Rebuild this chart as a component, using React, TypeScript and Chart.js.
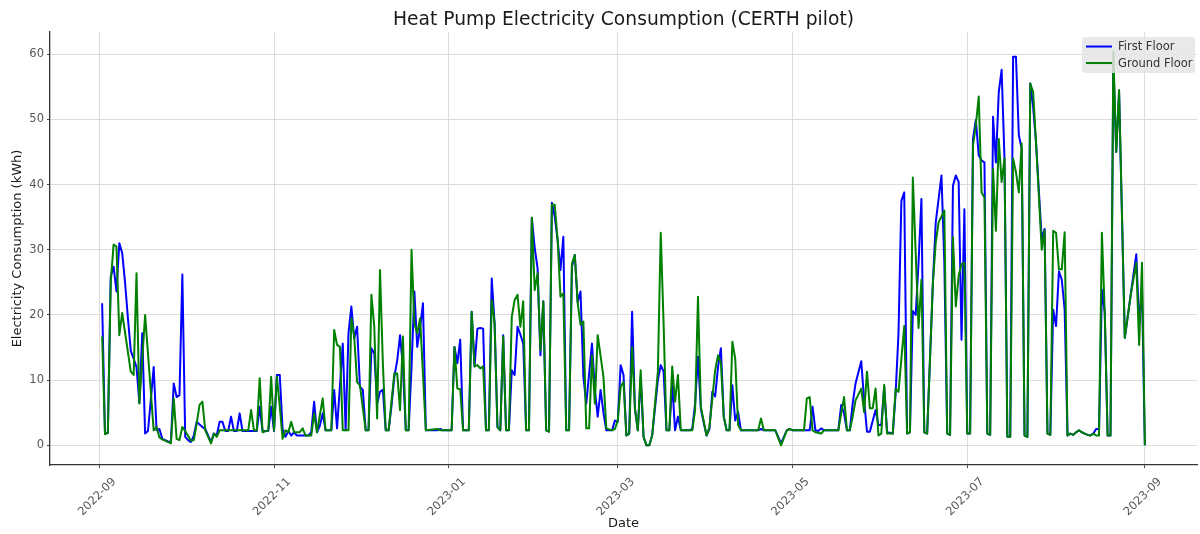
import React, { useEffect, useRef } from "react";
import { Chart, registerables } from "chart.js";

Chart.register(...registerables);

// x values are days since 2022-09-01
const tickDays = [0, 61, 122, 181, 242, 303, 365];
const tickLabels = ["2022-09", "2022-11", "2023-01", "2023-03", "2023-05", "2023-07", "2023-09"];
const yTickValues = [0, 10, 20, 30, 40, 50, 60];

const firstFloorDays = [
  1, 2, 3, 4, 5, 6, 7, 8, 9, 10, 11, 12, 13, 14, 15, 16, 17, 18, 19, 20, 21, 22, 23, 24, 25, 26, 27, 28, 29, 30,
  31, 32, 33, 34, 35, 36, 37, 38, 39, 40, 41, 42, 43, 44, 45, 46, 47, 48, 49, 50, 55, 56, 57, 59, 60, 61, 62, 63, 64, 65,
  66, 67, 68, 69, 73, 74, 75, 76, 77, 78, 79, 81, 82, 83, 84, 85, 86, 87, 88, 89, 90, 91, 92, 93, 94, 95, 96, 97, 98, 99,
  100, 101, 102, 103, 104, 105, 106, 107, 108, 109, 110, 111, 112, 113, 114, 118, 119, 120, 123, 124, 125, 126, 127, 129, 130,
  131, 132, 133, 134, 135, 136, 137, 138, 139, 140, 141, 142, 143, 144, 145, 146, 147, 148, 149, 150, 151, 152, 153, 154, 155,
  156, 157, 158, 159, 160, 161, 162, 163, 164, 165, 166, 167, 168, 169, 170, 172, 173, 174, 175, 176, 177, 179, 180, 181, 182,
  183, 184, 185, 186, 187, 188, 189, 190, 191, 192, 193, 195, 196, 197, 198, 199, 200, 201, 202, 203, 206, 207, 208, 209, 210,
  211, 212, 213, 214, 215, 216, 217, 218, 219, 220, 221, 222, 223, 224, 230, 231, 232, 236, 238, 240, 241, 242, 248, 249, 250,
  251, 252, 253, 258, 259, 260, 261, 262, 263, 264, 266, 267, 268, 269, 271, 272, 273, 274, 275, 277, 278, 279, 280, 281, 282,
  283, 284, 285, 286, 287, 288, 289, 291, 292, 294, 295, 296, 297, 298, 299, 300, 301, 302, 303, 304, 305, 306, 307, 308, 309,
  310, 311, 312, 313, 314, 315, 316, 317, 318, 319, 320, 321, 322, 323, 324, 325, 326, 327, 329, 330, 331, 332, 333, 334, 335,
  336, 337, 338, 339, 340, 341, 342, 343, 344, 345, 346, 347, 348, 349, 350, 351, 352, 353, 354, 355, 356, 358, 362, 363, 364,
  365,
];
const firstFloorKWh = [
  21.8, 1.8, 1.9, 25.9, 27.4, 23.6, 31, 29.5, 25, 19.5, 14.5, 13.3, 12, 6.5, 17.2, 1.8, 2.2, 7, 12, 2.3, 2.5, 1, 0.8, 0.6, 0.5, 9.5, 7.4, 7.7, 26.2, 1.3,
  0.8, 0.5, 1.5, 3.6, 3.2, 2.8, 2.5, 1.5, 0.5, 1.8, 1.5, 3.6, 3.6, 2.2, 2.2, 4.4, 2.2, 2.2, 4.9, 2.2, 2.2, 5.9, 2.2, 2.2, 5.9, 2.2, 10.8, 10.8, 2.5, 1.3,
  2.2, 1.5, 2, 1.5, 1.5, 2, 6.7, 2, 3, 4.9, 2.3, 2.3, 8.5, 2.6, 9, 15.6, 2.3, 17.2, 21.3, 16.4, 18.2, 9, 8.5, 2.3, 2.3, 14.9, 14.1, 6.4, 8.2, 8.5,
  2.3, 2.3, 6, 10.5, 13, 16.9, 12, 2.3, 2.3, 12, 23.6, 15.1, 18, 21.8, 2.3, 2.3, 2.5, 2.3, 2.3, 15.1, 12.6, 16.2, 2.3, 2.3, 20.5,
  12.1, 17.9, 18, 17.9, 2.3, 2.3, 25.6, 18.7, 2.8, 2.3, 16.9, 2.3, 2.3, 11.5, 10.8, 18.2, 17, 15.6, 2.3, 2.3, 34.9, 30.3, 27.2, 13.8, 22.1,
  2.3, 2.1, 37.2, 35.1, 31.5, 26.9, 32, 2.3, 2.3, 27.4, 29.2, 22, 23.6, 10.5, 6.4, 15.6, 8.5, 4.4, 8.5, 5, 2.3, 2.3, 3.8, 3.6, 12.3,
  10.8, 1.5, 1.8, 20.5, 5.6, 2.3, 10.5, 1.3, 0, 0, 1.5, 10, 12.3, 11.3, 2.3, 2.3, 9.5, 2.3, 4.4, 2.3, 2.3, 2.5, 6.4, 13.6, 5.6,
  3.5, 1.5, 2.5, 8.2, 7.5, 12, 14.9, 4.4, 2.3, 2.3, 9.2, 3.8, 5.1, 2.3, 2.3, 2.5, 2.3, 2.3, 0.3, 2.3, 2.5, 2.3, 2.3, 5.9, 2.3,
  2.2, 2.6, 2.3, 2.3, 6.2, 4.9, 2.3, 2.3, 6.4, 9.5, 12.9, 6.9, 2.1, 2.1, 5.4, 3.1, 3.1, 9, 2, 1.8, 8, 17.2, 37.5, 38.8, 1.8,
  2, 20.6, 20, 28, 37.8, 2, 1.8, 24.9, 34.2, 41.4, 28, 1.8, 1.6, 39.8, 41.4, 40.4, 16.2, 36.2, 1.8, 1.8, 47, 49.9, 44.5, 43.7, 43.4,
  1.8, 1.6, 50.4, 43.4, 54.2, 57.6, 44, 1.3, 1.3, 59.6, 59.6, 47.6, 45.5, 1.5, 1.3, 55.5, 51.9, 46.5, 31.6, 33.2, 1.8, 1.6, 20.8, 18.3, 26.7,
  25.4, 20.8, 1.5, 1.8, 1.6, 2, 2.3, 2, 1.8, 1.6, 1.5, 1.8, 2.5, 2.5, 23.9, 20.3, 1.5, 1.5, 58.9, 45, 54.2, 16.5, 29.3, 18.8, 23.9,
  0,
];

const groundFloorDays = [
  1, 2, 3, 4, 5, 6, 7, 8, 11, 12, 13, 14, 16, 19, 20, 21, 22, 25, 26, 27, 28, 29, 30, 32, 33, 34, 35, 36, 37, 39,
  40, 41, 42, 52, 53, 54, 55, 56, 57, 59, 60, 61, 62, 63, 64, 65, 66, 67, 68, 70, 71, 72, 74, 75, 76, 78, 79, 81, 82, 83,
  84, 85, 87, 88, 89, 90, 91, 93, 94, 95, 96, 97, 98, 99, 100, 101, 103, 104, 105, 106, 107, 108, 109, 110, 111, 112, 114, 118, 119, 123,
  124, 125, 126, 127, 129, 130, 131, 132, 133, 134, 135, 136, 137, 138, 139, 140, 141, 142, 143, 144, 145, 146, 147, 148, 149, 150, 151, 152, 153, 154,
  155, 156, 157, 158, 159, 160, 161, 162, 163, 164, 165, 166, 167, 168, 169, 170, 171, 172, 173, 174, 176, 177, 179, 180, 181, 182, 183, 184, 185, 186,
  187, 188, 189, 190, 191, 192, 193, 195, 196, 197, 198, 199, 200, 201, 202, 203, 207, 208, 209, 210, 212, 213, 215, 216, 217, 218, 219, 220, 221, 222,
  223, 224, 230, 231, 232, 236, 238, 240, 241, 242, 246, 247, 248, 249, 250, 252, 253, 258, 259, 260, 261, 262, 263, 264, 266, 267, 268, 269, 270, 271,
  272, 273, 274, 275, 277, 278, 279, 281, 282, 283, 284, 286, 287, 288, 289, 291, 292, 293, 295, 296, 297, 298, 299, 300, 301, 302, 303, 304, 305, 306,
  307, 308, 309, 310, 311, 312, 313, 314, 315, 316, 317, 318, 319, 320, 321, 322, 323, 324, 325, 326, 327, 329, 330, 331, 332, 333, 334, 335, 336, 337,
  338, 339, 340, 341, 342, 343, 344, 345, 346, 347, 348, 349, 350, 351, 352, 353, 354, 355, 356, 358, 360, 362, 363, 364, 365,
];
const groundFloorKWh = [
  16.7, 1.7, 1.9, 25, 30.8, 30.5, 16.9, 20.3, 11.3, 10.8, 26.4, 6.4, 20, 2.3, 2.8, 1.2, 0.9, 0.3, 7.2, 1, 0.8, 2.8, 2.2, 0.7, 0.8, 3.3, 6.2, 6.7, 2.3, 0.3,
  1.8, 1.3, 2.3, 2.3, 5.4, 2.3, 2.3, 10.3, 2, 2.3, 10.5, 2.3, 10.5, 6, 1, 2.3, 2, 3.6, 2, 2, 2.6, 1.5, 1.5, 4.9, 2, 7.2, 2.3, 2.3, 17.7, 15.4,
  15.1, 2.3, 2.3, 19.5, 16.7, 9.7, 9.2, 2.3, 2.3, 23.1, 18.2, 4.1, 26.9, 12.6, 2.3, 2.3, 11, 11, 5.4, 16.7, 2.3, 2.3, 30, 18.7, 17.2, 19.5, 2.3, 2.5, 2.3, 2.3,
  15.1, 8.7, 8.6, 2.3, 2.3, 20.5, 12.1, 12.3, 11.8, 12.1, 2.3, 2.3, 22.3, 18.7, 2.8, 2.3, 16.7, 2.3, 2.3, 19.7, 22.3, 23.1, 18.2, 22.1, 2.3, 2.3, 34.9, 23.8, 26.4, 14.6,
  22.1, 2.3, 2.1, 36.9, 36.9, 31.5, 22.8, 23.3, 2.3, 2.3, 27.9, 29.2, 21.8, 18.5, 19, 2.6, 2.6, 13.8, 6.4, 16.9, 10.5, 2.6, 2.3, 2.5, 3.8, 9, 9.7, 1.5, 1.8, 15.1,
  5.6, 2.3, 11.5, 1.3, 0, 0, 1.5, 11.3, 32.6, 18.7, 2.3, 2.3, 12.1, 6.7, 10.8, 2.3, 2.3, 5.4, 22.8, 5.9, 1.5, 2.8, 11.5, 13.8, 12.6, 4.4, 2.3, 2.3, 15.9, 13.3,
  3.1, 2.3, 2.3, 4.1, 2.3, 2.3, 0, 2.3, 2.5, 2.3, 2.3, 7.2, 7.4, 2.3, 2, 1.8, 2.3, 2.3, 4.9, 7.4, 2.3, 2.3, 4.4, 6.9, 8.7, 5.1, 11.3, 5.7, 5.7, 8.7,
  1.5, 1.8, 9.3, 1.8, 1.8, 8.7, 8.2, 18.3, 1.8, 2, 41.1, 18, 25.4, 2, 1.8, 24.9, 31.1, 34.2, 36, 1.8, 1.6, 31.9, 21.3, 26, 27.8, 28, 1.8, 1.8, 46, 49.1,
  53.5, 38.8, 38, 1.8, 1.6, 42.4, 32.9, 47, 40.4, 44, 1.3, 1.3, 44, 41.9, 38.8, 46.3, 1.5, 1.3, 55.5, 54.2, 46.5, 30, 33, 1.8, 1.6, 32.9, 32.6, 27, 27, 32.7,
  1.5, 1.8, 1.6, 2, 2.3, 2, 1.8, 1.6, 1.5, 1.8, 1.5, 1.5, 32.6, 20.3, 1.5, 1.5, 60.4, 45, 54.5, 16.5, 22.9, 28, 15.4, 28, 0,
];

const FONT = "'DejaVu Sans', 'Liberation Sans', sans-serif";

const legendPlugin = {
  id: "insideLegend",
  afterDatasetsDraw(chart: any) {
    const { ctx, chartArea } = chart;
    const right = chartArea.right - 2;
    const top = chartArea.top + 5;
    const w = 113;
    const h = 36;
    const left = right - w;
    ctx.save();
    ctx.fillStyle = "rgba(229,229,229,0.85)";
    ctx.beginPath();
    if ((ctx as any).roundRect) (ctx as any).roundRect(left, top, w, h, 3);
    else ctx.rect(left, top, w, h);
    ctx.fill();
    const entries = chart.data.datasets.map((ds: any) => ({ label: ds.label, color: ds.borderColor }));
    entries.forEach((e: any, i: number) => {
      const y = top + 9.5 + i * 16.5;
      ctx.strokeStyle = e.color;
      ctx.lineWidth = 2;
      ctx.beginPath();
      ctx.moveTo(left + 4, y);
      ctx.lineTo(left + 30, y);
      ctx.stroke();
      ctx.fillStyle = "#333333";
      ctx.font = `11.5px ${FONT}`;
      ctx.textBaseline = "middle";
      ctx.textAlign = "left";
      ctx.fillText(e.label, left + 36, y + 0.5);
    });
    ctx.restore();
  },
};

export default function App() {
  const canvasRef = useRef<HTMLCanvasElement | null>(null);

  useEffect(() => {
    const canvas = canvasRef.current;
    if (!canvas) return;
    const chart = new Chart(canvas, {
      type: "line",
      data: {
        datasets: [
          {
            label: "First Floor",
            data: firstFloorDays.map((d, i) => ({ x: d, y: firstFloorKWh[i] })),
            borderColor: "#0000ff",
            backgroundColor: "#0000ff",
            borderWidth: 2,
            pointRadius: 0,
            borderJoinStyle: "round",
            tension: 0,
            order: 1,
          },
          {
            label: "Ground Floor",
            data: groundFloorDays.map((d, i) => ({ x: d, y: groundFloorKWh[i] })),
            borderColor: "#008000",
            backgroundColor: "#008000",
            borderWidth: 2,
            pointRadius: 0,
            borderJoinStyle: "round",
            tension: 0,
            order: 0,
          },
        ],
      },
      options: {
        animation: false,
        responsive: false,
        devicePixelRatio: 1,
        layout: { padding: { left: 0, right: 3, top: 0, bottom: 0 } },
        plugins: {
          legend: { display: false },
          tooltip: { enabled: false },
          title: {
            display: true,
            text: "Heat Pump Electricity Consumption (CERTH pilot)",
            fullSize: false,
            color: "#1a1a1a",
            font: { family: FONT, size: 18.7, weight: "normal" },
            padding: { top: 9, bottom: 0.6 },
          },
        },
        scales: {
          x: {
            type: "linear",
            min: -17.2,
            max: 383.2,
            afterBuildTicks: (scale: any) => {
              scale.ticks = tickDays.map((v) => ({ value: v }));
            },
            afterFit: (scale: any) => {
              scale.height = 69;
            },
            ticks: {
              autoSkip: false,
              minRotation: 45,
              maxRotation: 45,
              labelOffset: 15,
              padding: 7,
              color: "#555555",
              font: { family: FONT, size: 11.5 },
              callback: (value: any) => {
                const idx = tickDays.indexOf(Number(value));
                return idx >= 0 ? tickLabels[idx] : "";
              },
            },
            grid: {
              color: "#dcdcdc",
              lineWidth: 1,
              drawTicks: true,
              tickLength: 3,
              tickColor: "#444444",
            },
            border: { display: true, color: "#333333", width: 1.3 },
            title: {
              display: true,
              text: "Date",
              color: "#1a1a1a",
              font: { family: FONT, size: 13 },
              padding: { top: 0, bottom: 3 },
            },
          },
          y: {
            type: "linear",
            min: -3.02,
            max: 63.4,
            afterBuildTicks: (scale: any) => {
              scale.ticks = yTickValues.map((v) => ({ value: v }));
            },
            afterFit: (scale: any) => {
              scale.width = 50;
            },
            ticks: {
              padding: 3,
              color: "#555555",
              font: { family: FONT, size: 11.5 },
              callback: (value: any) => String(value),
            },
            grid: {
              color: "#dcdcdc",
              lineWidth: 1,
              drawTicks: true,
              tickLength: 3,
              tickColor: "#444444",
            },
            border: { display: true, color: "#333333", width: 1.3 },
            title: {
              display: true,
              text: "Electricity Consumption (kWh)",
              color: "#1a1a1a",
              font: { family: FONT, size: 13 },
              padding: { top: 10, bottom: 0 },
            },
          },
        },
      } as any,
      plugins: [legendPlugin],
    });
    return () => chart.destroy();
  }, []);

  return (
    <div style={{ position: "fixed", left: 0, top: 0, width: 1200, height: 534, background: "#ffffff" }}>
      <canvas ref={canvasRef} width={1200} height={534} style={{ display: "block", width: 1200, height: 534 }} />
    </div>
  );
}
